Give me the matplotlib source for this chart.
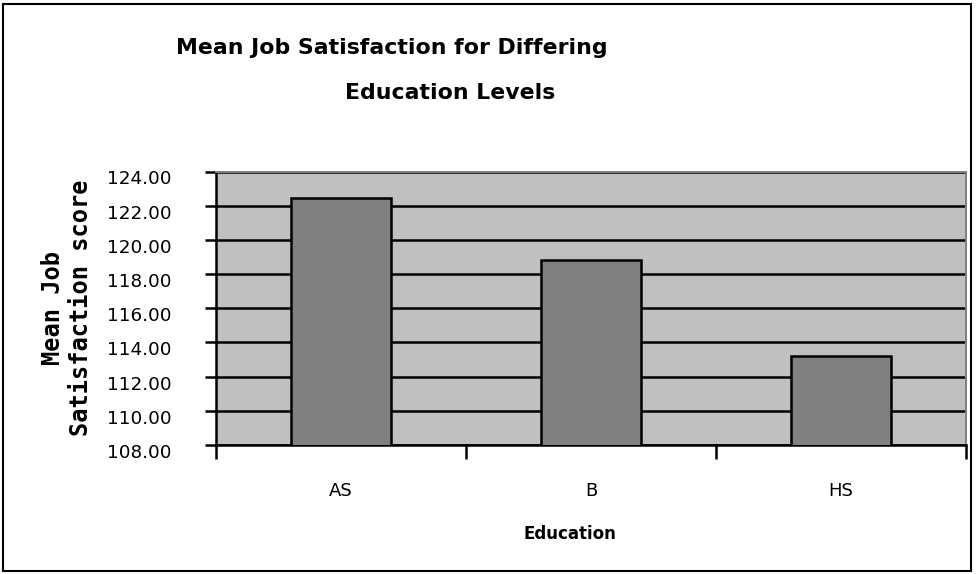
import matplotlib
matplotlib.use("Agg")
import matplotlib.pyplot as plt
import matplotlib.transforms as mtransforms
from matplotlib.patches import Rectangle

# data
categories = ["AS", "B", "HS"]
mean_scores = [122.45, 118.84, 113.22]
y_ticks = [108, 110, 112, 114, 116, 118, 120, 122, 124]

W, H = 976, 574
fig = plt.figure(figsize=(W / 100, H / 100), dpi=100)
fig.patch.set_facecolor("white")
# plot area in pixel coords: left 216, right 966, top 171.5, bottom 445
ax = fig.add_axes([216 / W, 1 - 445 / H, (966 - 216) / W, (445 - 171.5) / H])
ax.set_facecolor("#C0C0C0")

# outer chart border
fig.add_artist(Rectangle((3 / W, 3 / H), 968 / W, 567 / H, transform=fig.transFigure,
                         fill=False, edgecolor="black", linewidth=1.5))

x = list(range(len(categories)))
ax.bar(x, mean_scores, width=0.4, bottom=0, color="#808080", edgecolor="black",
       linewidth=1.8, zorder=3)

ax.set_ylim(108, 124)
ax.set_xlim(-0.5, len(categories) - 0.5)
ax.set_yticks(y_ticks)
ax.set_yticklabels([f"{v:.2f}" for v in y_ticks], fontsize=13.2, family="DejaVu Sans")
ax.yaxis.grid(True, color="black", linewidth=1.8, zorder=1)
ax.set_axisbelow(True)

# category ticks sit on the boundaries, labels centred under bars
ax.set_xticks([i - 0.5 for i in range(len(categories) + 1)])
ax.set_xticklabels([])
ax.set_xticks(x, minor=True)
ax.set_xticklabels(categories, minor=True, fontsize=13, family="DejaVu Sans")
ax.tick_params(axis="x", which="minor", length=0, pad=27)
ax.tick_params(axis="x", which="major", length=10, width=1.8, direction="out")
ax.tick_params(axis="y", length=8, width=1.8, direction="out", pad=24)

# value labels sit a little below their gridline in the original
shift = mtransforms.ScaledTranslation(0, -6 / 100, fig.dpi_scale_trans)
for lab in ax.get_yticklabels():
    lab.set_transform(lab.get_transform() + shift)

for side in ["top", "right"]:
    ax.spines[side].set_color("#808080")
    ax.spines[side].set_linewidth(1.4)
for side in ["left", "bottom"]:
    ax.spines[side].set_color("black")
    ax.spines[side].set_linewidth(1.8)

fig.text(392 / W, 1 - 48 / H, "Mean Job Satisfaction for Differing",
         ha="center", va="center", fontsize=15.8, fontweight="bold", family="DejaVu Sans")
fig.text(450 / W, 1 - 93 / H, "Education Levels",
         ha="center", va="center", fontsize=15.8, fontweight="bold", family="DejaVu Sans")

fig.text(67 / W, 1 - 308 / H, "Mean Job\nSatisfaction score", rotation=90,
         ha="center", va="center", fontsize=17, fontweight="bold",
         family="DejaVu Sans Mono", linespacing=1.2, multialignment="center")

fig.text(570 / W, 1 - 534 / H, "Education", ha="center", va="center",
         fontsize=12, fontweight="bold", family="DejaVu Sans")

plt.savefig("out.png", dpi=100)
plt.close()
